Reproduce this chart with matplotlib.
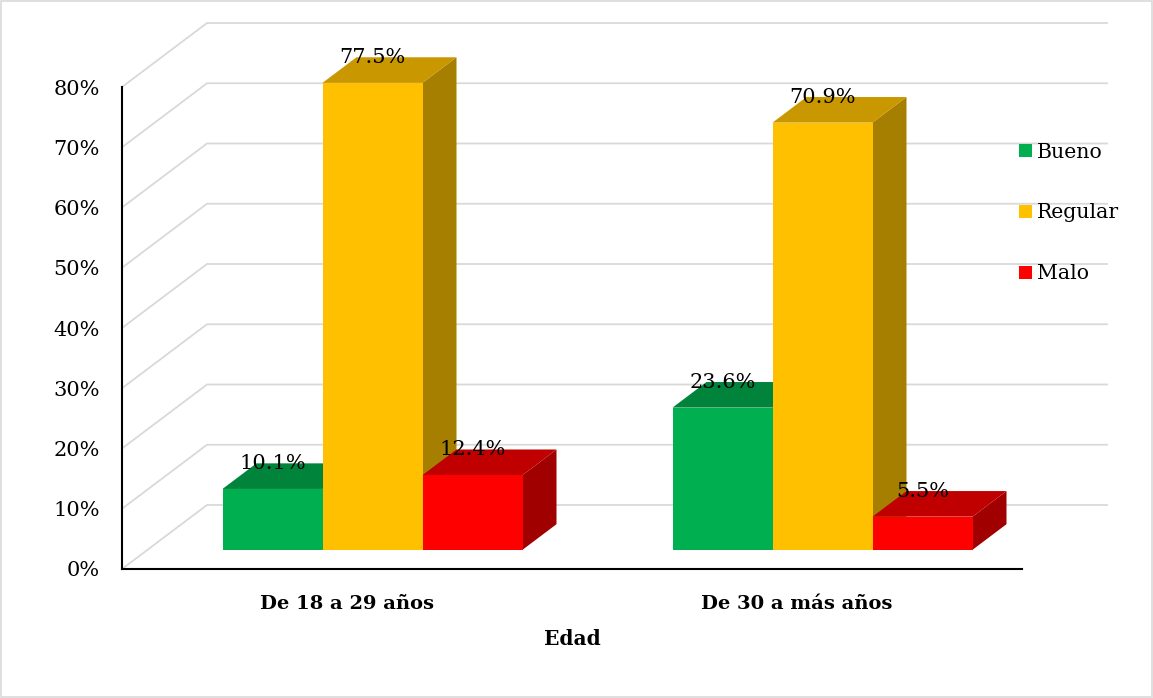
import matplotlib.pyplot as plt
from matplotlib.patches import Patch, Rectangle

categories = ['De 18 a 29 años', 'De 30 a más años']
series = ['Bueno', 'Regular', 'Malo']
values = {
    'Bueno': [10.1, 23.6],
    'Regular': [77.5, 70.9],
    'Malo': [12.4, 5.5],
}
yticks = [0, 10, 20, 30, 40, 50, 60, 70, 80]

front_col = {'Bueno': '#00B050', 'Regular': '#FFC000', 'Malo': '#FF0000'}
top_col = {'Bueno': '#00843C', 'Regular': '#C99700', 'Malo': '#C00000'}
side_col = {'Bueno': '#00672E', 'Regular': '#A67E00', 'Malo': '#A00000'}

plt.rcParams['font.family'] = 'DejaVu Serif'
FS = 15

W, H = 1153, 698
fig = plt.figure(figsize=(W / 100, H / 100), dpi=100)
ax = fig.add_axes([122 / W, (H - 569) / H, 900 / W, 482 / H])
ax.set_xlim(-0.5, 1.5)
ax.set_ylim(0, 80)

# oblique depth of the 3d box (data units) and where the bars sit in it
DX = 85 / 450
DY = 64 / 6.025
d0, d1 = 0.30, 0.70
ddx = (d1 - d0) * DX
ddy = (d1 - d0) * DY

# side wall + back wall gridlines
x0, x1 = -0.5, 1.5
for v in yticks:
    ax.plot([x0, x0 + DX, x1 + DX], [v, v + DY, v + DY], color='#D9D9D9',
            lw=1.3, zorder=1, clip_on=False)

bw = 2 / 9
for i, cat in enumerate(categories):
    for j, s in enumerate(series):
        v = values[s][i]
        xl = i - 1 / 3 + j * bw + d0 * DX
        xr = xl + bw
        yb = d0 * DY
        yt = yb + v
        ax.fill([xr, xr + ddx, xr + ddx, xr], [yb, yb + ddy, yt + ddy, yt],
                color=side_col[s], lw=0, zorder=3, clip_on=False)
        ax.fill([xl, xr, xr + ddx, xl + ddx], [yt, yt, yt + ddy, yt + ddy],
                color=top_col[s], lw=0, zorder=3, clip_on=False)
        ax.fill([xl, xr, xr, xl], [yb, yb, yt, yt],
                color=front_col[s], lw=0, zorder=3, clip_on=False)
        ax.text((xl + xr) / 2, yt + ddy, f'{v:.1f}%', ha='center', va='center',
                fontsize=FS, zorder=10)

for side in ['top', 'right']:
    ax.spines[side].set_visible(False)
for side in ['left', 'bottom']:
    ax.spines[side].set_linewidth(1.5)
    ax.spines[side].set_color('black')

ax.set_yticks(yticks)
ax.set_yticklabels([f'{t}%' for t in yticks], fontsize=FS)
ax.set_xticks(range(len(categories)))
ax.set_xticklabels(categories, fontsize=14, fontweight='bold')
ax.tick_params(axis='y', length=0, pad=16)
ax.tick_params(axis='x', length=0, pad=18.5)
ax.set_xlabel('Edad', fontsize=14.5, fontweight='bold', labelpad=12)

handles = [Patch(facecolor=front_col[s], label=s) for s in series]
ax.legend(handles=handles, loc='center left',
          bbox_to_anchor=(1019 / W, 1 - 213 / H), bbox_transform=fig.transFigure,
          frameon=False, borderpad=0, borderaxespad=0, handlelength=0.62,
          handleheight=0.62, handletextpad=0.25, labelspacing=2.05, fontsize=14.7)

fig.patches.append(Rectangle((0.001, 0.001), 0.998, 0.997, transform=fig.transFigure,
                             fill=False, edgecolor='#D9D9D9', lw=1.2))

fig.savefig('out.png', dpi=100)
